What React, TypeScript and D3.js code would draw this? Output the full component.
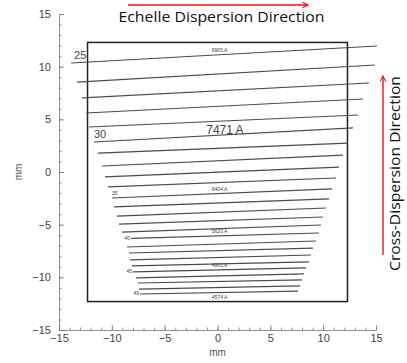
import { useRef, useEffect } from 'react'
import * as d3 from 'd3'

// echelle orders drawn on the detector, left and right end of each trace (mm)
const orders = [25, 26, 27, 28, 29, 30, 31, 32, 33, 34, 35, 36, 37, 38, 39, 40, 41, 42, 43, 44, 45, 46, 47, 48, 49]
const leftX = [-13.86, -13.3, -12.82, -12.44, -12.16, -11.69, -11.31, -10.93, -10.65, -10.36, -9.98, -9.79, -9.51, -9.32, -9.04, -8.18, -8.56, -8.37, -8.28, -8.09, -7.99, -7.71, -7.52, -7.43, -7.33]
const leftY = [10.35, 8.54, 7.03, 5.6, 4.27, 2.85, 1.8, 0.57, -0.47, -1.42, -2.47, -3.32, -4.18, -4.94, -5.7, -6.3, -7.12, -7.69, -8.35, -8.92, -9.49, -10.06, -10.54, -11.11, -11.58]
const rightX = [15.09, 14.9, 14.34, 13.77, 13.3, 12.82, 12.35, 11.88, 11.5, 11.21, 10.83, 10.55, 10.27, 9.98, 9.79, 9.6, 9.32, 9.04, 8.85, 8.66, 8.38, 8.19, 8.0, 7.81, 7.62]
const rightY = [11.96, 10.16, 8.45, 6.93, 5.41, 4.18, 2.75, 1.61, 0.47, -0.57, -1.61, -2.56, -3.42, -4.27, -5.03, -5.79, -6.55, -7.22, -7.88, -8.54, -9.11, -9.68, -10.25, -10.82, -11.3]

const labeledOrders = [25, 30, 35, 40, 45, 49]
const wavelengthOrders = [25, 30, 35, 40, 45, 49]
const wavelengthLabels = ['8965 A', '7471 A', '6404 A', '5620 A', '4961 A', '4574 A']

const detectorHalf = 12.3
const majorTicks = [-15, -10, -5, 0, 5, 10, 15]
const minorTicks = d3.range(-15, 16, 1)

export default function App() {
  const svgRef = useRef<SVGSVGElement>(null)

  useEffect(() => {
    if (!svgRef.current) return
    const svg = d3.select(svgRef.current)
    svg.selectAll('*').remove()

    const width = 407
    const height = 363
    svg.attr('width', width).attr('height', height)

    const x = d3.scaleLinear().domain([-15, 15]).range([59, 376])
    const y = d3.scaleLinear().domain([-15, 15]).range([330, 14])

    svg.append('rect').attr('width', width).attr('height', height).attr('fill', '#fff')

    const defs = svg.append('defs')
    defs.append('marker')
      .attr('id', 'redhead')
      .attr('viewBox', '0 0 10 10')
      .attr('refX', 9)
      .attr('refY', 5)
      .attr('markerWidth', 5)
      .attr('markerHeight', 5)
      .attr('orient', 'auto')
      .append('path')
      .attr('d', 'M1,1 L9,5 L1,9')
      .attr('fill', 'none')
      .attr('stroke', '#e8141b')
      .attr('stroke-width', 1.6)

    // Axes (ticks inward, minor every 1 mm)
    const axisFont = 'Liberation Sans, Arial, sans-serif'
    const fmt = (d: d3.NumberValue) => String(d).replace('-', '\u2212')

    const gx = svg.append('g').attr('transform', `translate(0,${y(-15)})`)
    gx.call(d3.axisBottom(x).tickValues(minorTicks).tickSize(-2.5).tickSizeOuter(0).tickFormat(() => ''))
    const gx2 = svg.append('g').attr('transform', `translate(0,${y(-15)})`)
    gx2.call(d3.axisBottom(x).tickValues(majorTicks).tickSize(-5).tickSizeOuter(0).tickPadding(4).tickFormat(fmt))
    gx2.select('.domain').remove()

    const gy = svg.append('g').attr('transform', `translate(${x(-15)},0)`)
    gy.call(d3.axisLeft(y).tickValues(minorTicks).tickSize(-2.5).tickSizeOuter(0).tickFormat(() => ''))
    const gy2 = svg.append('g').attr('transform', `translate(${x(-15)},0)`)
    gy2.call(d3.axisLeft(y).tickValues(majorTicks).tickSize(-5).tickSizeOuter(0).tickPadding(8).tickFormat(fmt))
    gy2.select('.domain').remove()

    svg.selectAll('.domain').attr('stroke', '#777').attr('stroke-width', 0.8)
    svg.selectAll('.tick line').attr('stroke', '#777').attr('stroke-width', 0.8)
    svg.selectAll('.tick text')
      .attr('font-family', axisFont)
      .attr('font-size', 11)
      .attr('fill', '#444')

    svg.append('text')
      .attr('x', x(0))
      .attr('y', 356)
      .attr('text-anchor', 'middle')
      .attr('font-family', axisFont)
      .attr('font-size', 10)
      .attr('fill', '#555')
      .text('mm')

    svg.append('text')
      .attr('transform', `translate(22,${y(0)}) rotate(-90)`)
      .attr('text-anchor', 'middle')
      .attr('font-family', axisFont)
      .attr('font-size', 10)
      .attr('fill', '#555')
      .text('mm')

    // Detector outline
    svg.append('rect')
      .attr('x', x(-detectorHalf))
      .attr('y', y(detectorHalf))
      .attr('width', x(detectorHalf) - x(-detectorHalf))
      .attr('height', y(-detectorHalf) - y(detectorHalf))
      .attr('fill', 'none')
      .attr('stroke', '#222')
      .attr('stroke-width', 1.5)

    // Order traces
    const traces = orders.map((o, i) => ({
      order: o,
      x1: leftX[i],
      y1: leftY[i],
      x2: rightX[i],
      y2: rightY[i],
    }))

    svg.append('g')
      .selectAll('line')
      .data(traces)
      .join('line')
      .attr('x1', (d) => x(d.x1))
      .attr('y1', (d) => y(d.y1))
      .attr('x2', (d) => x(d.x2))
      .attr('y2', (d) => y(d.y2))
      .attr('stroke', '#4a4a4a')
      .attr('stroke-width', 1.2)

    const yAt = (t: typeof traces[number], xv: number) =>
      t.y1 + ((t.y2 - t.y1) * (xv - t.x1)) / (t.x2 - t.x1)

    // Order numbers
    labeledOrders.forEach((o) => {
      const t = traces.find((d) => d.order === o)!
      const big = o === 25 || o === 30
      if (o <= 35) {
        svg.append('text')
          .attr('x', x(t.x1) + (o === 25 ? 3 : 0))
          .attr('y', y(t.y1) - (big ? 3.5 : 3))
          .attr('font-family', axisFont)
          .attr('font-size', big ? 11 : 5)
          .attr('fill', '#444')
          .text(o)
      } else {
        svg.append('text')
          .attr('x', x(t.x1) - 1)
          .attr('y', y(t.y1) + 1.5)
          .attr('text-anchor', 'end')
          .attr('font-family', axisFont)
          .attr('font-size', 5)
          .attr('fill', '#444')
          .text(o)
      }
    })

    // Wavelength labels near the centre of the traces
    const labelX = 0.2
    wavelengthLabels.forEach((lab, i) => {
      const t = traces.find((d) => d.order === wavelengthOrders[i])!
      const big = lab === '7471 A'
      const last = i === wavelengthLabels.length - 1
      const base = y(yAt(t, labelX))
      svg.append('text')
        .attr('x', x(big ? 0.7 : labelX))
        .attr('y', last ? base + 6.5 : base - (big ? 1.5 : 3))
        .attr('text-anchor', 'middle')
        .attr('font-family', axisFont)
        .attr('font-size', big ? 12 : 5)
        .attr('fill', '#444')
        .text(lab)
    })

    // Direction annotations
    svg.append('line')
      .attr('x1', 128).attr('y1', 5)
      .attr('x2', 308).attr('y2', 5)
      .attr('stroke', '#e8141b')
      .attr('stroke-width', 1.4)
      .attr('marker-end', 'url(#redhead)')

    svg.append('text')
      .attr('x', 221.5)
      .attr('y', 22)
      .attr('text-anchor', 'middle')
      .attr('font-family', 'Open Sans, sans-serif')
      .attr('font-size', 14.5)
      .attr('textLength', 206)
      .attr('lengthAdjust', 'spacingAndGlyphs')
      .attr('fill', '#111')
      .text('Echelle Dispersion Direction')

    svg.append('line')
      .attr('x1', 383).attr('y1', 255)
      .attr('x2', 383).attr('y2', 76)
      .attr('stroke', '#e8141b')
      .attr('stroke-width', 1.4)
      .attr('marker-end', 'url(#redhead)')

    svg.append('text')
      .attr('transform', `translate(400,173.5) rotate(-90)`)
      .attr('text-anchor', 'middle')
      .attr('font-family', 'Open Sans, sans-serif')
      .attr('font-size', 14.5)
      .attr('textLength', 195)
      .attr('lengthAdjust', 'spacingAndGlyphs')
      .attr('fill', '#111')
      .text('Cross-Dispersion Direction')
  }, [])

  return (
    <div style={{ position: 'absolute', left: 0, top: 0 }}>
      <svg ref={svgRef} style={{ display: 'block' }} />
    </div>
  )
}
